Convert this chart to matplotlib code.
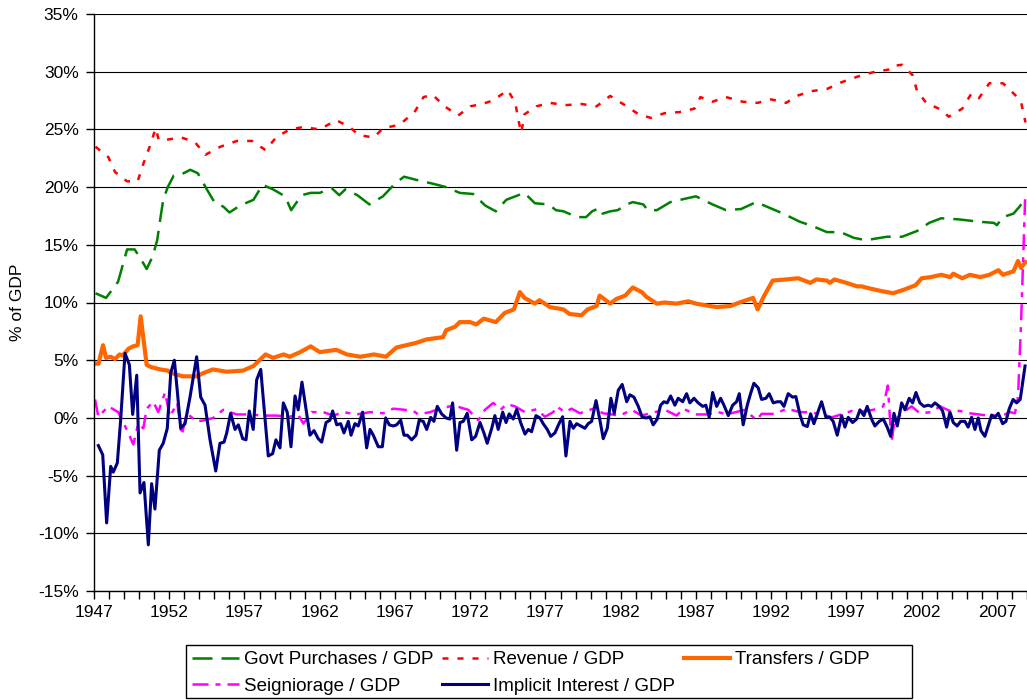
#!/usr/bin/env python3
import matplotlib
matplotlib.use("Agg")
import matplotlib.pyplot as plt
from matplotlib.patches import Rectangle
from matplotlib.ticker import MultipleLocator, FuncFormatter

plt.rcParams["font.family"] = ["Liberation Sans", "DejaVu Sans"]

# Govt purchases / GDP (%)
govt_years = [1947.1, 1947.8, 1948.6, 1949.2, 1949.7, 1950.1, 1950.5, 1950.9, 1951.2, 1951.4,
              1951.6, 1951.9, 1952.3, 1952.8, 1953.4, 1953.9, 1954.5, 1955.0, 1955.6, 1956.0,
              1956.7, 1957.6, 1958.2, 1958.9, 1959.7, 1960.1, 1960.8, 1961.4, 1962.0, 1962.8,
              1963.3, 1963.7, 1964.5, 1965.3, 1966.2, 1967.0, 1967.6, 1968.5, 1969.5, 1970.4,
              1971.3, 1972.2, 1973.0, 1973.7, 1974.4, 1974.6, 1975.6, 1976.3, 1977.2, 1977.7,
              1978.2, 1979.1, 1979.7, 1980.1, 1980.6, 1980.8, 1981.3, 1981.8, 1982.4, 1982.8,
              1983.5, 1983.8, 1984.4, 1985.3, 1986.3, 1987.0, 1988.1, 1989.0, 1990.0, 1991.0,
              1991.9, 1992.8, 1993.9, 1994.8, 1995.7, 1996.6, 1997.5, 1998.3, 1999.7, 2000.7,
              2001.7, 2002.5, 2003.3, 2004.5, 2005.8, 2006.8, 2007.0, 2007.4, 2008.1, 2008.5,
              2008.9]
govt_vals = [10.8, 10.4, 11.8, 14.6, 14.6, 13.8, 12.9, 14.0, 15.4, 17.2,
             18.9, 20.0, 21.0, 21.1, 21.5, 21.2, 19.8, 18.7, 18.3, 17.8,
             18.4, 18.9, 20.2, 19.8, 19.2, 18.0, 19.3, 19.5, 19.5, 19.9,
             19.3, 19.8, 19.3, 18.5, 19.2, 20.3, 20.9, 20.6, 20.3, 20.0,
             19.5, 19.4, 18.4, 17.9, 18.9, 19.0, 19.5, 18.6, 18.5, 18.0,
             17.9, 17.4, 17.4, 17.9, 18.2, 17.7, 17.9, 18.0, 18.5, 18.7,
             18.5, 18.0, 18.0, 18.7, 19.0, 19.2, 18.5, 18.0, 18.1, 18.7,
             18.2, 17.7, 17.0, 16.6, 16.1, 16.1, 15.6, 15.4, 15.7, 15.7,
             16.2, 16.9, 17.3, 17.2, 17.0, 16.9, 16.7, 17.4, 17.7, 18.3,
             19.0]

# Revenue / GDP (%)
rev_years = [1947.1, 1947.95, 1948.4, 1949.2, 1949.9, 1950.3, 1950.7, 1951.1, 1951.3, 1951.8,
             1952.8, 1953.7, 1954.4, 1955.4, 1956.5, 1957.5, 1958.4, 1959.1, 1960.0, 1960.9,
             1962.0, 1963.1, 1964.0, 1964.6, 1965.6, 1966.2, 1967.3, 1968.3, 1968.9, 1969.5,
             1970.3, 1971.2, 1972.0, 1972.8, 1973.5, 1974.5, 1975.0, 1975.2, 1975.4, 1975.6,
             1976.4, 1977.3, 1978.3, 1979.4, 1980.4, 1981.3, 1982.4, 1983.2, 1984.0, 1984.9,
             1985.9, 1986.9, 1987.3, 1988.1, 1989.0, 1990.1, 1991.1, 1992.0, 1993.0, 1993.7,
             1994.6, 1995.7, 1996.7, 1997.8, 1998.9, 1999.9, 2000.1, 2000.7, 2001.4, 2001.7,
             2001.9, 2002.3, 2003.3, 2003.8, 2004.7, 2005.3, 2005.8, 2006.5, 2007.4, 2008.2,
             2008.6, 2008.9]
rev_vals = [23.5, 22.6, 21.3, 20.5, 20.5, 22.1, 23.5, 25.1, 24.1, 24.1,
            24.3, 23.9, 22.8, 23.5, 24.0, 24.0, 23.2, 24.3, 25.0, 25.2,
            25.0, 25.8, 25.2, 24.5, 24.3, 25.1, 25.4, 26.5, 27.8, 28.0,
            27.0, 26.2, 27.0, 27.2, 27.5, 28.4, 27.3, 25.8, 24.7, 26.3,
            27.0, 27.3, 27.1, 27.2, 27.0, 27.9, 27.0, 26.3, 26.0, 26.4,
            26.5, 26.8, 27.8, 27.4, 27.8, 27.4, 27.3, 27.6, 27.3, 27.9,
            28.3, 28.5, 29.1, 29.6, 30.0, 30.2, 30.5, 30.6, 29.7, 28.3,
            28.0, 27.3, 26.7, 26.1, 26.8, 28.1, 27.7, 29.0, 29.0, 28.0,
            27.4, 25.6]

# Transfers / GDP (%)
trans_years = [1947.1, 1947.3, 1947.6, 1947.8, 1948.1, 1948.4, 1948.7, 1948.9, 1949.3, 1949.6,
               1949.9, 1950.1, 1950.5, 1950.8, 1951.4, 1951.9, 1952.1, 1952.9, 1953.8, 1954.3,
               1954.9, 1955.8, 1956.9, 1957.6, 1958.4, 1958.9, 1959.6, 1960.0, 1960.7, 1961.4,
               1962.0, 1963.1, 1963.8, 1964.7, 1965.6, 1966.4, 1967.1, 1968.4, 1969.1, 1970.2,
               1970.4, 1971.0, 1971.3, 1972.0, 1972.4, 1972.9, 1973.7, 1974.3, 1974.9, 1975.3,
               1975.6, 1976.3, 1976.6, 1977.3, 1978.2, 1978.6, 1979.4, 1979.8, 1980.4, 1980.6,
               1981.3, 1981.7, 1982.3, 1982.8, 1983.4, 1983.7, 1984.4, 1984.9, 1985.7, 1986.5,
               1987.0, 1987.9, 1988.4, 1989.3, 1989.9, 1990.8, 1991.1, 1991.5, 1992.1, 1993.0,
               1993.8, 1994.6, 1995.0, 1995.7, 1995.9, 1996.2, 1997.0, 1997.7, 1998.0, 1998.6,
               1999.3, 2000.1, 2000.8, 2001.6, 2002.0, 2002.6, 2003.3, 2003.9, 2004.1, 2004.7,
               2005.2, 2005.9, 2006.5, 2007.1, 2007.4, 2008.1, 2008.4, 2008.6, 2008.9]
trans_vals = [4.7, 4.7, 6.3, 5.2, 5.3, 5.1, 5.5, 5.4, 6.0, 6.2,
              6.3, 8.8, 4.6, 4.4, 4.2, 4.1, 3.9, 3.6, 3.6, 3.9,
              4.2, 4.0, 4.1, 4.5, 5.5, 5.2, 5.5, 5.3, 5.7, 6.2,
              5.7, 5.9, 5.5, 5.3, 5.5, 5.3, 6.1, 6.5, 6.8, 7.0,
              7.6, 7.9, 8.3, 8.3, 8.1, 8.6, 8.3, 9.1, 9.4, 10.9,
              10.4, 9.9, 10.2, 9.6, 9.4, 9.0, 8.9, 9.4, 9.7, 10.6,
              9.9, 10.3, 10.6, 11.3, 10.9, 10.5, 9.9, 10.0, 9.9, 10.1,
              9.9, 9.7, 9.6, 9.7, 10.0, 10.4, 9.4, 10.5, 11.9, 12.0,
              12.1, 11.7, 12.0, 11.9, 11.7, 12.0, 11.7, 11.4, 11.4, 11.2,
              11.0, 10.8, 11.1, 11.5, 12.1, 12.2, 12.4, 12.2, 12.5, 12.1,
              12.4, 12.2, 12.4, 12.8, 12.4, 12.7, 13.6, 13.0, 13.5]

# Seigniorage / GDP (%)
seig_years = [1947.07, 1947.29, 1947.95, 1948.61, 1949.06, 1949.28, 1949.61, 1949.94, 1950.28, 1950.5,
              1950.94, 1951.27, 1951.72, 1952.05, 1952.53, 1952.83, 1953.16, 1953.82, 1954.38, 1954.93,
              1955.59, 1956.48, 1957.37, 1958.23, 1959.14, 1960.02, 1960.56, 1960.91, 1961.47, 1962.24,
              1962.9, 1963.56, 1964.46, 1965.34, 1966.22, 1966.89, 1967.66, 1968.22, 1968.55, 1969.33,
              1969.99, 1970.65, 1971.1, 1971.87, 1972.53, 1972.98, 1973.53, 1974.02, 1974.42, 1974.97,
              1975.64, 1976.41, 1976.97, 1977.52, 1977.74, 1978.29, 1978.74, 1979.29, 1980.18, 1980.84,
              1981.95, 1982.73, 1983.39, 1984.28, 1984.94, 1985.72, 1986.16, 1986.94, 1987.71, 1988.48,
              1989.04, 1990.26, 1991.03, 1991.37, 1992.25, 1993.03, 1993.91, 1994.46, 1995.46, 1996.02,
              1996.79, 1997.35, 1997.78, 1998.78, 1999.45, 1999.75, 2000.0, 2000.2, 2000.78, 2001.33,
              2001.88, 2002.66, 2003.21, 2003.88, 2004.54, 2005.2, 2006.09, 2006.98, 2007.53, 2007.86,
              2008.2, 2008.4, 2008.6, 2008.88]
seig_vals = [1.6, 0.1, 1.0, 0.5, -0.7, -1.3, -2.3, -0.5, -0.9, 0.8,
             1.4, 0.5, 2.2, 0.1, 1.3, -1.5, 0.4, -0.3, -0.2, 0.0,
             0.7, 0.3, 0.3, 0.2, 0.2, 0.1, 0.3, -0.5, 0.5, 0.5,
             0.2, 0.5, 0.3, 0.5, 0.4, 0.8, 0.7, 0.6, 0.3, 0.5,
             0.8, 1.0, 1.0, 0.7, -0.2, 0.7, 1.3, 0.7, 1.2, 1.0,
             0.5, 0.75, 0.1, 0.5, 1.0, 0.5, 0.8, 0.4, 0.8, 0.4,
             0.2, 0.7, 0.2, 0.5, 0.7, 0.2, 0.8, 0.3, 0.3, 0.5,
             0.3, 0.7, -0.2, 0.35, 0.35, 0.8, 0.5, 0.5, 0.3, 0.05,
             0.35, 0.6, 0.5, 0.7, 1.0, 2.8, -2.1, -0.2, 0.5, 1.0,
             0.4, 0.5, 1.0, 0.6, 0.6, 0.4, 0.25, 0.2, 0.3, 0.5,
             0.4, 1.8, 8.0, 19.2]

# Implicit interest / GDP (%)
intr_years = [1947.29, 1947.58, 1947.84, 1948.11, 1948.28, 1948.55, 1948.77, 1949.06, 1949.35, 1949.57,
              1949.84, 1950.06, 1950.32, 1950.61, 1950.83, 1951.05, 1951.34, 1951.6, 1951.87, 1952.1,
              1952.34, 1952.53, 1952.76, 1953.05, 1953.38, 1953.82, 1954.09, 1954.38, 1954.71, 1955.09,
              1955.37, 1955.64, 1955.82, 1956.08, 1956.37, 1956.59, 1956.88, 1957.1, 1957.32, 1957.58,
              1957.81, 1958.08, 1958.36, 1958.58, 1958.87, 1959.09, 1959.36, 1959.58, 1959.84, 1960.09,
              1960.36, 1960.57, 1960.82, 1961.09, 1961.35, 1961.62, 1961.9, 1962.13, 1962.42, 1962.68,
              1962.86, 1963.13, 1963.39, 1963.61, 1963.9, 1964.08, 1964.34, 1964.56, 1964.85, 1965.12,
              1965.34, 1965.56, 1965.89, 1966.16, 1966.38, 1966.62, 1966.89, 1967.11, 1967.38, 1967.6,
              1967.82, 1968.11, 1968.4, 1968.61, 1968.88, 1969.11, 1969.37, 1969.59, 1969.81, 1970.1,
              1970.39, 1970.65, 1970.83, 1971.1, 1971.32, 1971.54, 1971.8, 1972.1, 1972.36, 1972.65,
              1972.91, 1973.13, 1973.43, 1973.64, 1973.86, 1974.16, 1974.38, 1974.59, 1974.86, 1975.09,
              1975.35, 1975.64, 1975.86, 1976.08, 1976.37, 1976.63, 1976.85, 1977.12, 1977.35, 1977.63,
              1977.9, 1978.14, 1978.36, 1978.63, 1978.85, 1979.07, 1979.34, 1979.62, 1979.84, 1980.07,
              1980.36, 1980.62, 1980.84, 1981.11, 1981.35, 1981.57, 1981.84, 1982.1, 1982.4, 1982.61,
              1982.88, 1983.17, 1983.43, 1983.72, 1983.94, 1984.16, 1984.43, 1984.65, 1984.87, 1985.09,
              1985.32, 1985.6, 1985.82, 1986.12, 1986.38, 1986.6, 1986.87, 1987.15, 1987.45, 1987.66,
              1987.88, 1988.11, 1988.38, 1988.64, 1988.86, 1989.15, 1989.44, 1989.7, 1989.88, 1990.14,
              1990.41, 1990.63, 1990.85, 1991.14, 1991.36, 1991.65, 1991.87, 1992.14, 1992.4, 1992.63,
              1992.85, 1993.13, 1993.42, 1993.64, 1993.91, 1994.13, 1994.4, 1994.62, 1994.84, 1995.13,
              1995.35, 1995.64, 1995.9, 1996.12, 1996.39, 1996.68, 1996.9, 1997.12, 1997.41, 1997.68,
              1997.9, 1998.16, 1998.38, 1998.67, 1998.89, 1999.18, 1999.45, 1999.71, 1999.94, 2000.16,
              2000.38, 2000.67, 2000.89, 2001.17, 2001.4, 2001.62, 2001.88, 2002.15, 2002.44, 2002.66,
              2002.88, 2003.17, 2003.39, 2003.66, 2003.88, 2004.1, 2004.36, 2004.59, 2004.87, 2005.09,
              2005.32, 2005.54, 2005.76, 2005.94, 2006.2, 2006.42, 2006.65, 2006.87, 2007.09, 2007.38,
              2007.6, 2007.82, 2008.08, 2008.31, 2008.55, 2008.87]
intr_vals = [-2.4, -3.2, -9.1, -4.2, -4.7, -3.9, -0.2, 5.6, 4.6, 0.3,
             3.7, -6.5, -5.6, -11.0, -5.7, -7.9, -2.8, -2.2, -0.9, 3.9,
             5.0, 2.4, -0.9, -0.5, 1.8, 5.3, 1.8, 1.1, -1.9, -4.6,
             -2.2, -2.1, -1.3, 0.4, -1.0, -0.6, -1.8, -1.9, 0.6, -1.0,
             3.3, 4.2, 0.0, -3.3, -3.1, -1.9, -2.6, 1.3, 0.5, -2.5,
             1.9, 0.7, 3.1, 0.75, -1.5, -1.1, -1.8, -2.1, -0.4, -0.2,
             0.6, -0.6, -0.5, -1.3, -0.3, -1.5, -0.5, -0.7, 0.5, -2.6,
             -1.0, -1.5, -2.5, -2.5, 0.0, -0.6, -0.7, -0.6, -0.2, -1.5,
             -1.5, -1.9, -1.5, -0.2, -0.3, -1.0, 0.05, -0.3, 1.0, 0.35,
             0.0, -0.1, 1.3, -2.8, -0.4, -0.3, 0.4, -1.9, -1.6, -0.4,
             -1.3, -2.2, -0.9, 0.2, -1.0, 0.5, -0.4, 0.35, -0.1, 0.75,
             -0.4, -1.4, -1.0, -1.2, 0.2, 0.0, -0.5, -1.0, -1.6, -1.3,
             -0.5, 0.1, -3.3, -0.3, -0.9, -0.5, -0.7, -0.9, -0.5, -0.3,
             1.5, -0.2, -1.8, -0.9, 1.7, 0.4, 2.4, 2.9, 1.4, 2.0,
             1.8, 1.0, 0.05, 0.0, 0.1, -0.6, -0.1, 1.1, 1.4, 1.3,
             1.9, 1.1, 1.7, 1.4, 2.1, 1.3, 1.7, 1.3, 1.0, 1.1,
             0.05, 2.2, 1.0, 1.7, 1.1, 0.2, 1.1, 1.4, 2.1, -0.6,
             1.1, 2.1, 3.0, 2.6, 1.6, 1.7, 2.1, 1.3, 1.4, 1.4,
             1.0, 2.1, 1.8, 1.85, 0.3, -0.6, -0.75, 0.35, -0.5, 0.6,
             1.4, 0.05, 0.05, -0.3, -1.5, 0.2, -0.8, 0.05, -0.4, -0.1,
             0.7, 0.2, 1.0, -0.1, -0.7, -0.3, -0.1, -0.8, -1.6, 0.4,
             -0.7, 1.3, 0.7, 1.7, 1.3, 2.2, 1.3, 1.0, 1.1, 1.0,
             1.3, 1.0, 0.6, -0.8, 0.5, -0.4, -0.7, -0.3, -0.3, -0.8,
             0.05, -1.0, 0.0, -1.1, -1.6, -0.7, 0.25, 0.05, 0.4, -0.5,
             -0.3, 0.8, 1.6, 1.3, 1.6, 4.5]

series = [
    ("Govt Purchases / GDP", govt_years, govt_vals, "#008000", 1.8, (8, 3.6)),
    ("Revenue / GDP", rev_years, rev_vals, "#FF0000", 1.8, (2.4, 3.6)),
    ("Transfers / GDP", trans_years, trans_vals, "#FF6600", 3.0, None),
    ("Seigniorage / GDP", seig_years, seig_vals, "#FF00FF", 1.8, (6.4, 2.8, 2, 2.8)),
    ("Implicit Interest / GDP", intr_years, intr_vals, "#000080", 2.2, None),
]

W, H = 1027, 700
fig = plt.figure(figsize=(W / 100, H / 100), dpi=100)
ax = fig.add_axes([94 / W, 1 - 591 / H, 933 / W, 577 / H])

lines = {}
for label, xs, ys, color, lw, dashes in series:
    (ln,) = ax.plot(xs, ys, color=color, linewidth=lw, label=label,
                    solid_joinstyle="round")
    if dashes is not None:
        ln.set_dashes(dashes)
    lines[label] = ln

ax.set_xlim(1947, 2009)
ax.set_ylim(-15, 35)
ax.xaxis.set_minor_locator(MultipleLocator(1))
ax.set_xticks(range(1947, 2008, 5))
ax.yaxis.set_major_locator(MultipleLocator(5))
ax.yaxis.set_major_formatter(FuncFormatter(lambda v, p: f"{int(round(v))}%"))

ax.tick_params(axis="both", which="both", direction="out", length=6,
               width=1, color="black", labelsize=12.5)
ax.tick_params(axis="x", pad=4)
ax.tick_params(axis="y", pad=5)
ax.grid(True, axis="y", color="black", linewidth=0.8)
ax.set_axisbelow(True)
for side in ("top", "right"):
    ax.spines[side].set_visible(False)
for side in ("left", "bottom"):
    ax.spines[side].set_linewidth(1.0)

fig.text(18 / W, 1 - 302 / H, "% of GDP", rotation=90, ha="center",
         va="center", fontsize=12.5)

# legend: column-major order gives the 3 + 2 layout
order = ["Govt Purchases / GDP", "Seigniorage / GDP", "Revenue / GDP",
         "Implicit Interest / GDP", "Transfers / GDP"]
fig.legend([lines[k] for k in order], order, loc="upper left",
           bbox_to_anchor=(192 / W, 1 - 651 / H), ncol=3, frameon=False,
           borderpad=0, borderaxespad=0, handlelength=2.5, handletextpad=0.27,
           columnspacing=0.43, labelspacing=0.5, fontsize=13.5)
fig.patches.append(Rectangle((186 / W, 1 - 698 / H), (912 - 186) / W, 53 / H,
                             transform=fig.transFigure, fill=False,
                             edgecolor="black", linewidth=1.0))

fig.savefig("out.png", dpi=100)
